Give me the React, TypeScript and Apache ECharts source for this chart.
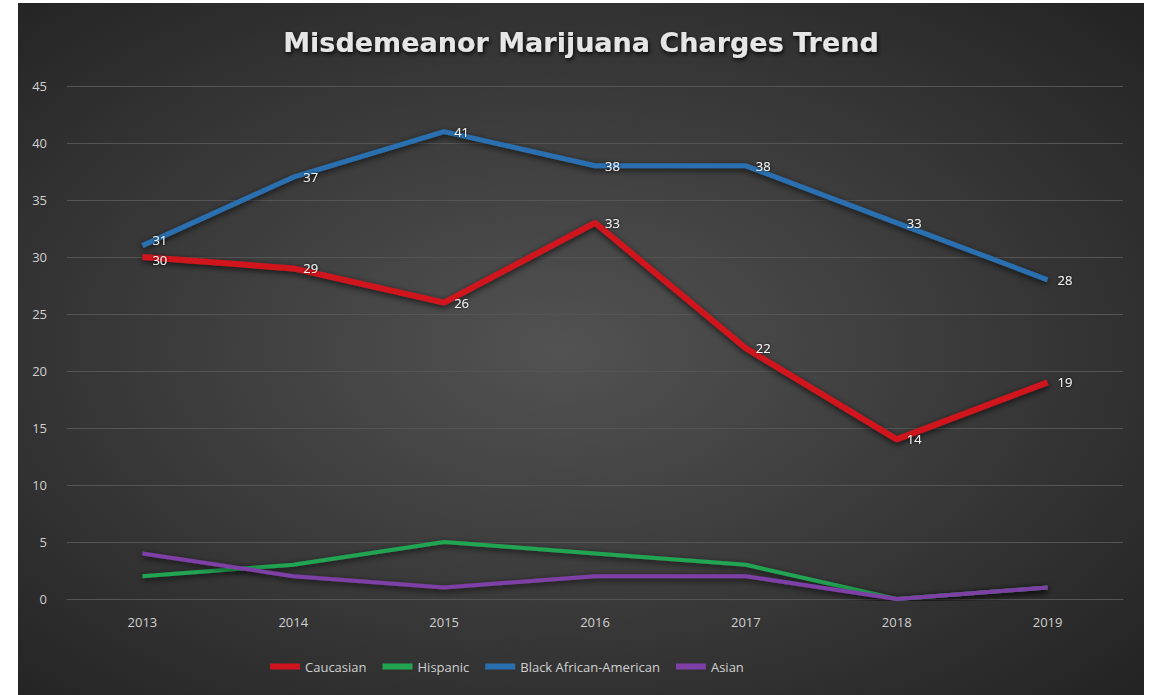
import React, { useEffect, useRef } from "react";
import * as echarts from "echarts";

const years = ["2013", "2014", "2015", "2016", "2017", "2018", "2019"];
const caucasian = [30, 29, 26, 33, 22, 14, 19];
const hispanic = [2, 3, 5, 4, 3, 0, 1];
const blackAfricanAmerican = [31, 37, 41, 38, 38, 33, 28];
const asian = [4, 2, 1, 2, 2, 0, 1];

export default function App() {
  const ref = useRef<HTMLDivElement>(null);
  useEffect(() => {
    document.body.style.margin = "0";
    document.body.style.background = "#ffffff";
    const chart = echarts.init(ref.current!, null, { renderer: "svg" });
    const font = "'Open Sans', 'Noto Sans', sans-serif";
    const lineSeries = (
      name: string,
      data: any[],
      color: string,
      width: number,
      labels: boolean
    ) => ({
      name,
      type: "line",
      data,
      symbol: "circle",
      symbolSize: 0,
      showSymbol: true,
      itemStyle: { color },
      lineStyle: {
        color,
        width,
        shadowColor: "rgba(0,0,0,0.7)",
        shadowBlur: 6,
        shadowOffsetY: 2,
      },
      label: labels
        ? {
            show: true,
            position: "right",
            distance: 10,
            color: "#f2f2f2",
            fontSize: 13,
            fontFamily: font,
            textShadowColor: "rgba(0,0,0,0.8)",
            textShadowBlur: 3,
          }
        : { show: false },
      emphasis: { disabled: true },
    });
    const blackData = blackAfricanAmerican.map((v, i) =>
      i === 0 ? { value: v, label: { offset: [0, -6] } } : v
    );
    const caucData = caucasian.map((v, i) =>
      i === 0 ? { value: v, label: { offset: [0, 3] } } : v
    );
    chart.setOption({
      animation: false,
      backgroundColor: {
        type: "radial",
        x: 0.48,
        y: 0.5,
        r: 0.7,
        colorStops: [
          { offset: 0, color: "#525252" },
          { offset: 1, color: "#242424" },
        ],
      },
      title: {
        text: "Misdemeanor Marijuana Charges Trend",
        left: "center",
        top: 21,
        textStyle: {
          color: "#e6e6e6",
          fontSize: 27,
          fontWeight: "bold",
          fontFamily: "'DejaVu Sans', 'Open Sans', sans-serif",
          textShadowColor: "rgba(0,0,0,0.9)",
          textShadowBlur: 4,
          textShadowOffsetX: 1,
          textShadowOffsetY: 2,
        },
      },
      legend: {
        left: 247,
        top: 652,
        itemWidth: 30,
        itemHeight: 6,
        itemGap: 16,
        icon: "rect",
        textStyle: { color: "#d0d0d0", fontSize: 13, fontFamily: font },
        data: ["Caucasian", "Hispanic", "Black African-American", "Asian"],
      },
      grid: { left: 49, right: 21, top: 83, bottom: 96 },
      xAxis: {
        type: "category",
        data: years,
        boundaryGap: true,
        axisLine: { show: true, lineStyle: { color: "#555555" } },
        axisTick: { show: false },
        axisLabel: { color: "#d0d0d0", fontSize: 13, fontFamily: font, margin: 16 },
      },
      yAxis: {
        type: "value",
        min: 0,
        max: 45,
        interval: 5,
        axisLine: { show: false },
        axisTick: { show: false },
        axisLabel: { color: "#d0d0d0", fontSize: 13, fontFamily: font, margin: 20 },
        splitLine: { lineStyle: { color: "#555555", width: 1 } },
      },
      series: [
        lineSeries("Caucasian", caucData, "#d0141f", 6, true),
        lineSeries("Hispanic", hispanic, "#22a553", 4, false),
        lineSeries("Black African-American", blackData, "#2a70b0", 5, true),
        lineSeries("Asian", asian, "#7e3fa6", 4, false),
      ],
    });
    return () => chart.dispose();
  }, []);
  return (
    <div style={{ position: "relative", width: 1156, height: 695, background: "#ffffff" }}>
      <div ref={ref} style={{ position: "absolute", left: 18, top: 3, width: 1126, height: 692 }} />
    </div>
  );
}
